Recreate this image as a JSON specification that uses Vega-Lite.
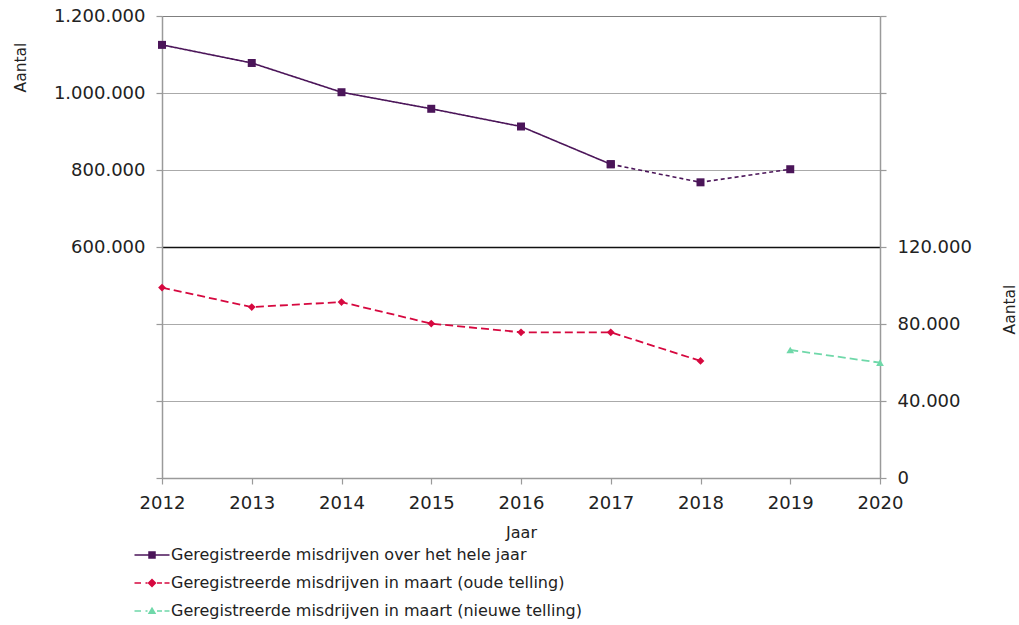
{
  "$schema": "https://vega.github.io/schema/vega-lite/v6.json",
  "autosize": {"type": "none"},
  "width": 718,
  "height": 462,
  "padding": {"left": 162, "top": 16, "right": 139, "bottom": 147},
  "background": "white",
  "config": {
    "view": {"stroke": null},
    "locale": {"number": {"decimal": ",", "thousands": ".", "grouping": [3], "currency": ["€", ""]}},
    "font": "DejaVu Sans",
    "axis": {
      "labelFont": "DejaVu Sans",
      "labelFontSize": 18,
      "labelColor": "#222222",
      "titleFont": "DejaVu Sans",
      "titleFontSize": 15.5,
      "titleFontWeight": "normal",
      "titleColor": "#222222",
      "domainColor": "#9a9a9a",
      "domainWidth": 1.5,
      "tickColor": "#9a9a9a",
      "tickWidth": 1.2,
      "tickSize": 6
    }
  },
  "data": {
    "values": [
      {"jaar": 2012, "aantal": 1125000, "reeks": "Geregistreerde misdrijven over het hele jaar", "segment": "jaar-a"},
      {"jaar": 2013, "aantal": 1078000, "reeks": "Geregistreerde misdrijven over het hele jaar", "segment": "jaar-a"},
      {"jaar": 2014, "aantal": 1002000, "reeks": "Geregistreerde misdrijven over het hele jaar", "segment": "jaar-a"},
      {"jaar": 2015, "aantal": 959000, "reeks": "Geregistreerde misdrijven over het hele jaar", "segment": "jaar-a"},
      {"jaar": 2016, "aantal": 913000, "reeks": "Geregistreerde misdrijven over het hele jaar", "segment": "jaar-a"},
      {"jaar": 2017, "aantal": 815000, "reeks": "Geregistreerde misdrijven over het hele jaar", "segment": "jaar-a"},
      {"jaar": 2017, "aantal": 815000, "reeks": "Geregistreerde misdrijven over het hele jaar", "segment": "jaar-b"},
      {"jaar": 2018, "aantal": 768000, "reeks": "Geregistreerde misdrijven over het hele jaar", "segment": "jaar-b"},
      {"jaar": 2019, "aantal": 802000, "reeks": "Geregistreerde misdrijven over het hele jaar", "segment": "jaar-b"},
      {"jaar": 2012, "aantal": 98900, "reeks": "Geregistreerde misdrijven in maart (oude telling)", "segment": "maart-oud"},
      {"jaar": 2013, "aantal": 88800, "reeks": "Geregistreerde misdrijven in maart (oude telling)", "segment": "maart-oud"},
      {"jaar": 2014, "aantal": 91400, "reeks": "Geregistreerde misdrijven in maart (oude telling)", "segment": "maart-oud"},
      {"jaar": 2015, "aantal": 80200, "reeks": "Geregistreerde misdrijven in maart (oude telling)", "segment": "maart-oud"},
      {"jaar": 2016, "aantal": 75700, "reeks": "Geregistreerde misdrijven in maart (oude telling)", "segment": "maart-oud"},
      {"jaar": 2017, "aantal": 75700, "reeks": "Geregistreerde misdrijven in maart (oude telling)", "segment": "maart-oud"},
      {"jaar": 2018, "aantal": 60800, "reeks": "Geregistreerde misdrijven in maart (oude telling)", "segment": "maart-oud"},
      {"jaar": 2019, "aantal": 66500, "reeks": "Geregistreerde misdrijven in maart (nieuwe telling)", "segment": "maart-nieuw"},
      {"jaar": 2020, "aantal": 59900, "reeks": "Geregistreerde misdrijven in maart (nieuwe telling)", "segment": "maart-nieuw"}
    ]
  },
  "encoding": {
    "x": {
      "field": "jaar",
      "type": "quantitative",
      "scale": {"domain": [2012, 2020], "nice": false, "zero": false},
      "axis": {
        "title": "Jaar",
        "values": [2012, 2013, 2014, 2015, 2016, 2017, 2018, 2019, 2020],
        "format": "d",
        "grid": false,
        "labelFlush": false,
        "labelPadding": 10,
        "titlePadding": 12,
        "titleFontSize": 16
      }
    },
    "color": {
      "field": "reeks",
      "type": "nominal",
      "scale": {
        "domain": [
          "Geregistreerde misdrijven over het hele jaar",
          "Geregistreerde misdrijven in maart (oude telling)",
          "Geregistreerde misdrijven in maart (nieuwe telling)"
        ],
        "range": ["#4b1559", "#d6083f", "#6fd8a9"]
      },
      "legend": {
        "title": null,
        "orient": "none",
        "legendX": -30,
        "legendY": 531,
        "direction": "vertical",
        "padding": 0,
        "labelFont": "DejaVu Sans",
        "labelFontSize": 16,
        "labelColor": "#222222",
        "labelLimit": 0,
        "symbolSize": 100,
        "labelOffset": 11,
        "symbolOffset": 12,
        "rowPadding": 12,
        "symbolStrokeWidth": 0,
        "symbolOpacity": 1,
        "encode": {
          "symbols": {
            "update": {
              "shape": {"signal": "datum.value === 'Geregistreerde misdrijven over het hele jaar' ? 'M-3.5,-0.15H3.5V0.15H-3.5Z M-0.75,-0.75H0.75V0.75H-0.75Z' : datum.value === 'Geregistreerde misdrijven in maart (oude telling)' ? 'M-3.5,-0.17H-2.2V0.17H-3.5Z M-1.3,-0.17H-0.9V0.17H-1.3Z M0,-0.9L0.9,0L0,0.9L-0.9,0Z M1.0,-0.17H2.0V0.17H1.0Z M2.5,-0.17H3.5V0.17H2.5Z' : 'M-3.5,-0.17H-2.2V0.17H-3.5Z M-1.3,-0.17H-0.9V0.17H-1.3Z M0,-0.85L0.85,0.6H-0.85Z M1.0,-0.17H2.0V0.17H1.0Z M2.5,-0.17H3.5V0.17H2.5Z'"},
              "fill": {"signal": "datum.value === 'Geregistreerde misdrijven over het hele jaar' ? '#4b1559' : datum.value === 'Geregistreerde misdrijven in maart (oude telling)' ? '#d6083f' : '#6fd8a9'"},
              "strokeWidth": {"value": 0},
              "opacity": {"value": 1}
            }
          }
        }
      }
    },
    "strokeDash": {
      "field": "segment",
      "type": "nominal",
      "scale": {
        "domain": ["jaar-a", "jaar-b", "maart-oud", "maart-nieuw"],
        "range": [[1, 0], [4, 3], [8, 4], [8, 4]]
      },
      "legend": null
    }
  },
  "layer": [
    {
      "transform": [{"filter": "datum.reeks === 'Geregistreerde misdrijven over het hele jaar'"}],
      "encoding": {
        "y": {
          "field": "aantal",
          "type": "quantitative",
          "scale": {"domain": [0, 1200000], "nice": false},
          "axis": {
            "orient": "left",
            "title": "Aantal",
            "titleAngle": -90,
            "titleAlign": "center",
            "titleBaseline": "alphabetic",
            "titleX": -137,
            "titleY": 51,
            "values": [0, 200000, 400000, 600000, 800000, 1000000, 1200000],
            "format": ",d",
            "labelExpr": "datum.value >= 600000 ? datum.label : ''",
            "labelPadding": 11,
            "grid": true,
            "gridColor": {"condition": {"test": "datum.value === 600000", "value": "#111111"}, "value": "#555555"},
            "gridDash": {"condition": {"test": "datum.value % 600000 === 0", "value": [1, 0]}, "value": [1, 1]},
            "gridWidth": {"condition": {"test": "datum.value === 600000", "value": 1.5}, "value": 1}
          }
        }
      },
      "layer": [
        {"mark": {"type": "line", "strokeWidth": 1.6, "clip": false}, "encoding": {}},
        {
          "mark": {"type": "point", "filled": true, "opacity": 1, "size": 64, "clip": false},
          "encoding": {
            "shape": {"value": "square"},
            "strokeDash": {"value": [1, 0]}
          }
        }
      ]
    },
    {
      "transform": [{"filter": "datum.reeks !== 'Geregistreerde misdrijven over het hele jaar'"}],
      "encoding": {
        "y": {
          "field": "aantal",
          "type": "quantitative",
          "scale": {"domain": [0, 240000], "nice": false},
          "axis": {
            "orient": "right",
            "title": "Aantal",
            "titleAngle": -90,
            "titleAlign": "center",
            "titleBaseline": "alphabetic",
            "titleX": 134,
            "titleY": 293,
            "values": [0, 40000, 80000, 120000, 160000, 200000, 240000],
            "format": ",d",
            "labelExpr": "datum.value <= 120000 ? datum.label : ''",
            "labelPadding": 11,
            "grid": false
          }
        }
      },
      "layer": [
        {"mark": {"type": "line", "strokeWidth": 1.8, "clip": false}, "encoding": {}},
        {
          "mark": {"type": "point", "filled": true, "opacity": 1, "clip": false},
          "encoding": {
            "shape": {
              "field": "reeks",
              "type": "nominal",
              "scale": {
                "domain": [
                  "Geregistreerde misdrijven in maart (oude telling)",
                  "Geregistreerde misdrijven in maart (nieuwe telling)"
                ],
                "range": ["diamond", "triangle-up"]
              },
              "legend": null
            },
            "size": {"value": 60},
            "strokeDash": {"value": [1, 0]}
          }
        }
      ]
    }
  ],
  "resolve": {"scale": {"y": "independent"}}
}
